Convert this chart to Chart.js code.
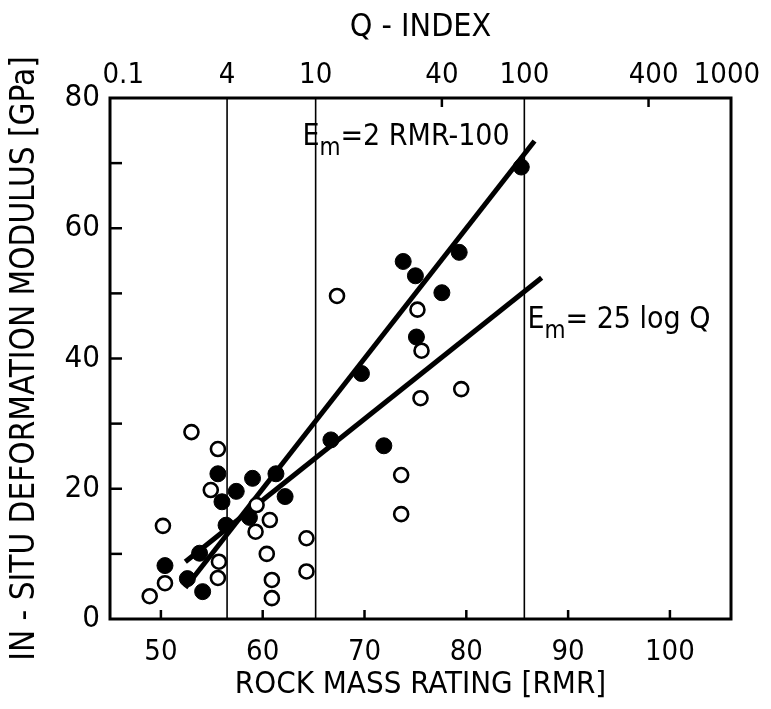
<!DOCTYPE html>
<html>
<head>
<meta charset="utf-8">
<script src="https://cdn.jsdelivr.net/npm/chart.js@4"></script>
<style>
  html, body { margin: 0; padding: 0; background: #fff; }
</style>
</head>
<body>
<canvas id="chartRmr" width="771" height="709"></canvas>
<script>
// Dados
var filledRmr = [50.4, 52.6, 54.1, 53.8, 55.6, 56.0, 57.4, 56.4, 58.7, 59.0, 61.3, 62.2, 66.7, 69.7, 71.9, 73.8, 75.0, 75.1, 77.6, 79.3, 85.4];
var filledEm = [8.2, 6.2, 4.2, 10.1, 22.3, 18.0, 19.6, 14.4, 15.6, 21.6, 22.3, 18.8, 27.5, 37.7, 26.6, 54.9, 52.7, 43.3, 50.1, 56.3, 69.4];

var openRmr = [48.9, 50.4, 50.2, 53.0, 55.6, 54.9, 55.7, 55.6, 59.4, 59.3, 60.7, 60.4, 60.9, 60.9, 64.3, 64.3, 67.3, 73.6, 73.6, 75.2, 75.6, 75.5, 79.5];
var openEm = [3.5, 5.5, 14.3, 28.7, 26.1, 19.8, 8.8, 6.3, 17.5, 13.4, 15.2, 10.0, 6.0, 3.2, 12.4, 7.3, 49.6, 22.1, 16.1, 47.5, 41.2, 33.9, 35.3];

// Em = 2 RMR - 100
var steepRmr = [52.4, 86.7];
var steepEm = [4.8, 73.4];
// Em = 25 log Q
var logRmr = [52.4, 87.4];
var logEm = [8.8, 52.4];

// Eixos
var xTicks = [50, 60, 70, 80, 90, 100];
var yTicks = [0, 20, 40, 60, 80];
var qLabels = ["0.1", "4", "10", "40", "100", "400", "1000"];
var qLabelRmr = [46.3, 56.5, 65.2, 77.6, 85.7, 98.4, 105.6];
var qLineRmr = [56.5, 65.2, 85.7];
var qMarkRmr = [77.6, 97.9];

var fonte = "'DejaVu Sans Condensed', 'Liberation Sans Narrow', 'DejaVu Sans', sans-serif";

function pontos(xs, ys) {
  return xs.map((x, i) => ({ x: x, y: ys[i] }));
}

// Moldura, linhas do indice Q, marcas internas e legendas das retas
var molduraPlugin = {
  id: "moldura",
  beforeDatasetsDraw(chart) {
    var ctx = chart.ctx;
    var a = chart.chartArea;
    var sx = chart.scales.x;
    ctx.save();
    ctx.strokeStyle = "#000";
    ctx.lineWidth = 1.6;
    qLineRmr.forEach(function (v) {
      var px = sx.getPixelForValue(v);
      ctx.beginPath();
      ctx.moveTo(px, a.top);
      ctx.lineTo(px, a.bottom);
      ctx.stroke();
    });
    ctx.restore();
  },
  afterDraw(chart) {
    var ctx = chart.ctx;
    var a = chart.chartArea;
    var sx = chart.scales.x;
    var sy = chart.scales.y;
    ctx.save();
    ctx.strokeStyle = "#000";
    ctx.lineWidth = 2.5;
    // marcas do eixo x
    xTicks.forEach(function (v) {
      var px = sx.getPixelForValue(v);
      ctx.beginPath();
      ctx.moveTo(px, a.bottom);
      ctx.lineTo(px, a.bottom - 9);
      ctx.stroke();
    });
    // marcas do eixo y (a cada 10)
    for (var v = 10; v < 80; v += 10) {
      var py = sy.getPixelForValue(v);
      ctx.beginPath();
      ctx.moveTo(a.left, py);
      ctx.lineTo(a.left + 12, py);
      ctx.stroke();
    }
    // marcas do indice Q (40 e 400)
    qMarkRmr.forEach(function (v) {
      var px = sx.getPixelForValue(v);
      ctx.beginPath();
      ctx.moveTo(px, a.top);
      ctx.lineTo(px, a.top + 9);
      ctx.stroke();
    });
    // moldura
    ctx.lineWidth = 3;
    ctx.strokeRect(a.left, a.top, a.right - a.left, a.bottom - a.top);

    // textos das equacoes
    ctx.fillStyle = "#000";
    ctx.textBaseline = "alphabetic";
    ctx.textAlign = "left";
    function equacao(rmr, em, resto) {
      var x = sx.getPixelForValue(rmr);
      var y = sy.getPixelForValue(em);
      ctx.font = "30px " + fonte;
      ctx.fillText("E", x, y);
      var w = ctx.measureText("E").width;
      ctx.font = "24px " + fonte;
      ctx.fillText("m", x + w, y + 10);
      var wm = ctx.measureText("m").width;
      ctx.font = "30px " + fonte;
      ctx.fillText(resto, x + w + wm, y);
    }
    equacao(63.9, 72.8, "=2 RMR-100");
    equacao(86.0, 44.7, "= 25 log Q");
    ctx.restore();
  },
};

var ctx = document.getElementById("chartRmr").getContext("2d");

new Chart(ctx, {
  type: "scatter",
  data: {
    datasets: [
      {
        label: "aberto",
        data: pontos(openRmr, openEm),
        pointRadius: 7,
        pointBorderWidth: 2.6,
        pointBackgroundColor: "#fff",
        pointBorderColor: "#000",
      },
      {
        label: "cheio",
        data: pontos(filledRmr, filledEm),
        pointRadius: 8,
        pointBorderWidth: 1,
        pointBackgroundColor: "#000",
        pointBorderColor: "#000",
      },
      {
        label: "Em = 2 RMR - 100",
        type: "line",
        data: pontos(steepRmr, steepEm),
        borderColor: "#000",
        borderWidth: 5,
        pointRadius: 0,
        showLine: true,
      },
      {
        label: "Em = 25 log Q",
        type: "line",
        data: pontos(logRmr, logEm),
        borderColor: "#000",
        borderWidth: 5,
        pointRadius: 0,
        showLine: true,
      },
    ],
  },
  options: {
    responsive: false,
    devicePixelRatio: 1,
    animation: false,
    layout: { padding: { left: 0, right: 40, top: 0, bottom: 0 } },
    plugins: {
      legend: { display: false },
      tooltip: { enabled: false },
    },
    scales: {
      x: {
        type: "linear",
        position: "bottom",
        min: 45,
        max: 106,
        afterBuildTicks: (s) => { s.ticks = xTicks.map((v) => ({ value: v })); },
        afterFit: (s) => { s.height = 90; },
        grid: { display: false, drawTicks: false },
        border: { display: false },
        ticks: {
          autoSkip: false,
          maxRotation: 0,
          padding: 16,
          color: "#000",
          font: { family: fonte, size: 29 },
        },
        title: {
          display: true,
          text: "ROCK MASS RATING [RMR]",
          color: "#000",
          font: { family: fonte, size: 31, lineHeight: 1 },
          padding: { top: 0, bottom: 9 },
        },
      },
      x2: {
        type: "linear",
        position: "top",
        min: 45,
        max: 106,
        afterBuildTicks: (s) => { s.ticks = qLabelRmr.map((v) => ({ value: v })); },
        afterFit: (s) => { s.height = 98; },
        grid: { display: false, drawTicks: false },
        border: { display: false },
        ticks: {
          autoSkip: false,
          maxRotation: 0,
          padding: 5,
          color: "#000",
          font: { family: fonte, size: 29 },
          callback: (value, index) => qLabels[index],
        },
        title: {
          display: true,
          text: "Q - INDEX",
          color: "#000",
          font: { family: fonte, size: 32, lineHeight: 1 },
          padding: { top: 12, bottom: 0 },
        },
      },
      y: {
        type: "linear",
        min: 0,
        max: 80,
        afterBuildTicks: (s) => { s.ticks = yTicks.map((v) => ({ value: v })); },
        afterFit: (s) => { s.width = 110; },
        grid: { display: false, drawTicks: false },
        border: { display: false },
        ticks: {
          padding: 10,
          color: "#000",
          font: { family: fonte, size: 31 },
        },
        title: {
          display: true,
          text: "IN - SITU DEFORMATION MODULUS [GPa]",
          color: "#000",
          font: { family: fonte, size: 33, lineHeight: 1 },
          padding: { top: 9, bottom: 0 },
        },
      },
    },
  },
  plugins: [molduraPlugin],
});
</script>
</body>
</html>
